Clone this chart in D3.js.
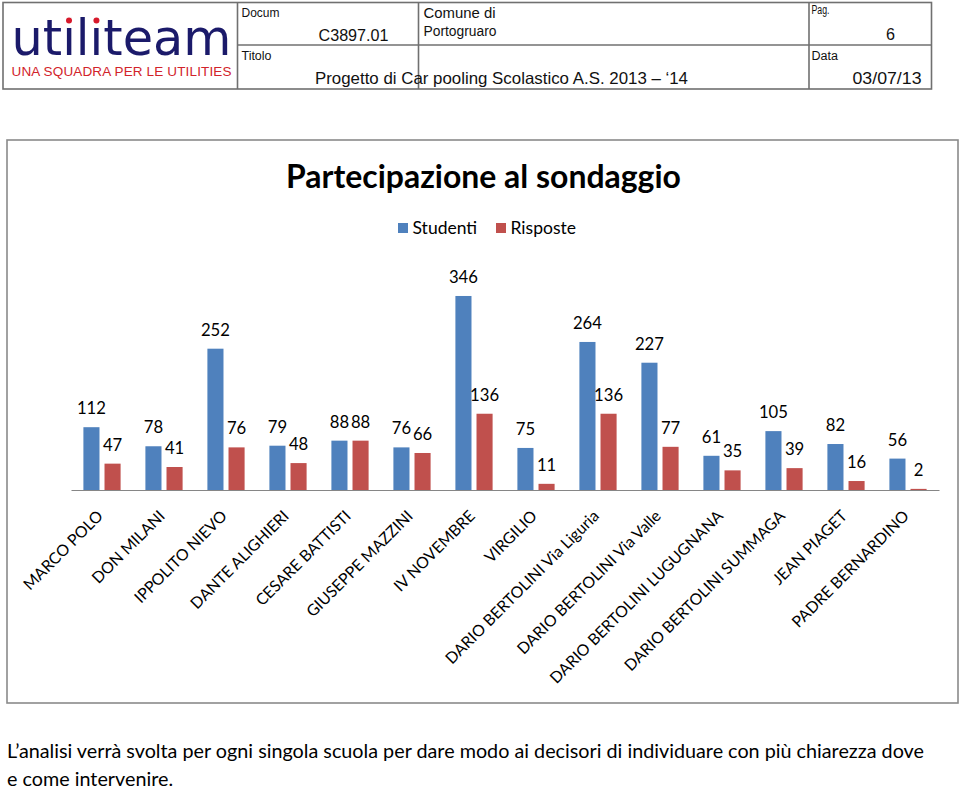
<!DOCTYPE html>
<html>
<head>
<meta charset="utf-8">
<script src="https://cdn.jsdelivr.net/npm/d3@7"></script>
<style>
  html, body { margin: 0; padding: 0; background: #fff; }
  svg { display: block; }
</style>
</head>
<body>
<svg id="page" width="960" height="788"></svg>
<script>
// ---------------- DATA ----------------
const categories = [
  "MARCO POLO", "DON MILANI", "IPPOLITO NIEVO", "DANTE ALIGHIERI",
  "CESARE BATTISTI", "GIUSEPPE MAZZINI", "IV NOVEMBRE", "VIRGILIO",
  "DARIO BERTOLINI Via Liguria", "DARIO BERTOLINI Via Valle",
  "DARIO BERTOLINI LUGUGNANA", "DARIO BERTOLINI SUMMAGA",
  "JEAN PIAGET", "PADRE BERNARDINO"
];
const seriesNames = ["Studenti", "Risposte"];
const studenti = [112, 78, 252, 79, 88, 76, 346, 75, 264, 227, 61, 105, 82, 56];
const risposte = [47, 41, 76, 48, 88, 66, 136, 11, 136, 77, 35, 39, 16, 2];
const seriesColors = ["#4F81BD", "#C0504D"];
const chartTitle = "Partecipazione al sondaggio";
const bodyLines = [
  "L’analisi verrà svolta per ogni singola scuola per dare modo ai decisori di individuare con più chiarezza dove",
  "e come intervenire."
];

// ---------------- SETUP ----------------
const svg = d3.select("#page");
svg.append("rect").attr("width", 960).attr("height", 788).attr("fill", "#fff");

function fitSize(text, family, weight, target, probe = 100) {
  const t = svg.append("text").attr("font-family", family).attr("font-weight", weight)
    .attr("font-size", probe).text(text);
  const w = t.node().getComputedTextLength();
  t.remove();
  return probe * target / w;
}

// ---------------- HEADER ----------------
const hdr = svg.append("g");
const lineCol = "#707070";
hdr.append("rect").attr("x", 3).attr("y", 2.5).attr("width", 928.5).attr("height", 86.5)
  .attr("fill", "none").attr("stroke", lineCol).attr("stroke-width", 1.6);
[237.5, 418.5, 809].forEach(x => hdr.append("line").attr("x1", x).attr("x2", x).attr("y1", 2.5).attr("y2", 89)
  .attr("stroke", lineCol).attr("stroke-width", 1.6));
hdr.append("line").attr("x1", 237.5).attr("x2", 931.5).attr("y1", 45).attr("y2", 45)
  .attr("stroke", lineCol).attr("stroke-width", 1.6);

const hFont = "Liberation Sans, Arial, sans-serif";
const hdrTexts = [
  { t: "Docum", x: 241.5, y: 16.5, w: 38, fs: 12.5 },
  { t: "C3897.01", x: 318.5, y: 40.5, w: 70, fs: 17 },
  { t: "Comune di", x: 423.5, y: 17.5, w: 72, fs: 15.5 },
  { t: "Portogruaro", x: 423.5, y: 35.5, w: 73, fs: 15.5 },
  { t: "Pag.", x: 811.5, y: 13.5, w: 18, fs: 12 },
  { t: "6", x: 886, y: 39.5, w: 9, fs: 16.5 },
  { t: "Titolo", x: 241.5, y: 60, w: 30, fs: 12.5 },
  { t: "Progetto di Car pooling Scolastico A.S. 2013 – ‘14", x: 315, y: 83.5, w: 373, fs: 16.5 },
  { t: "Data", x: 811.5, y: 60, w: 26.5, fs: 12.5 },
  { t: "03/07/13", x: 852.5, y: 83.5, w: 69, fs: 17 }
];
hdrTexts.forEach(d => {
  hdr.append("text").attr("x", d.x).attr("y", d.y)
    .attr("font-family", hFont)
    .attr("font-size", d.fs)
    .attr("textLength", d.w).attr("lengthAdjust", "spacingAndGlyphs")
    .attr("fill", "#111").text(d.t);
});

// Logo
const logoFont = "DejaVu Sans, sans-serif";
const logo = hdr.append("text").attr("x", 11.5).attr("y", 55)
  .attr("font-family", logoFont).attr("font-size", fitSize("utiliteam", logoFont, "normal", 220))
  .attr("fill", "#1b1a6a").text("utiliteam");
// red dots on the two i's
[2, 4].forEach(i => {
  const ext = logo.node().getExtentOfChar(i);
  svg.append("circle").attr("cx", ext.x + ext.width / 2).attr("cy", 20.5).attr("r", 4.2).attr("fill", "#fff");
  svg.append("circle").attr("cx", ext.x + ext.width / 2).attr("cy", 20.5).attr("r", 3).attr("fill", "#d7192b");
});
hdr.append("text").attr("x", 11.5).attr("y", 75.5)
  .attr("font-family", hFont).attr("font-size", 13.5)
  .attr("textLength", 220).attr("lengthAdjust", "spacing")
  .attr("fill", "#d2232a").text("UNA SQUADRA PER LE UTILITIES");

// ---------------- CHART ----------------
const cFont = "Lato, 'Open Sans', sans-serif";
svg.append("rect").attr("x", 7).attr("y", 140).attr("width", 951).attr("height", 563)
  .attr("fill", "#fff").attr("stroke", "#8a8a8a").attr("stroke-width", 1.6);

svg.append("text").attr("x", 483.5).attr("y", 188).attr("text-anchor", "middle")
  .attr("font-family", cFont).attr("font-weight", "bold")
  .attr("font-size", fitSize(chartTitle, cFont, "bold", 395))
  .attr("fill", "#000").text(chartTitle);

// Legend
const legFs = fitSize("Studenti", cFont, "normal", 64.7);
const legendX = [398, 496];
seriesNames.forEach((s, i) => {
  svg.append("rect").attr("x", legendX[i]).attr("y", 223).attr("width", 10).attr("height", 10)
    .attr("fill", seriesColors[i]);
  svg.append("text").attr("x", legendX[i] + 14.5).attr("y", 233.5)
    .attr("font-family", cFont).attr("font-size", legFs).attr("fill", "#000").text(s);
});

// Scales
const x = d3.scaleBand().domain(categories).range([71, 939]).paddingInner(0.4).paddingOuter(0.2);
const xs = d3.scaleBand().domain(seriesNames).range([0, x.bandwidth()]).paddingInner(0.238);
const y = d3.scaleLinear().domain([0, 400]).range([490, 265.7]);

const rows = categories.map((c, i) => ({ c, vals: [studenti[i], risposte[i]] }));
const valFs = fitSize("346", cFont, "normal", 29);

const groups = svg.append("g").selectAll("g").data(rows).join("g")
  .attr("transform", d => `translate(${x(d.c)},0)`);
groups.selectAll("rect").data(d => d.vals.map((v, i) => ({ v, s: seriesNames[i], i }))).join("rect")
  .attr("x", d => xs(d.s)).attr("width", xs.bandwidth())
  .attr("y", d => y(d.v)).attr("height", d => y(0) - y(d.v))
  .attr("fill", d => seriesColors[d.i]);
groups.selectAll("text").data(d => d.vals.map((v, i) => ({ v, s: seriesNames[i], i }))).join("text")
  .attr("x", d => xs(d.s) + xs.bandwidth() / 2).attr("y", d => y(d.v) - 13)
  .attr("text-anchor", "middle").attr("font-family", cFont).attr("font-size", valFs)
  .attr("fill", "#000").text(d => d.v);

// Axis
const labFs = fitSize("PADRE BERNARDINO", cFont, "normal", 158);
const axis = svg.append("g").attr("transform", "translate(0,490)")
  .call(d3.axisBottom(x).tickSize(0).tickSizeOuter(0).tickPadding(0));
axis.select(".domain").attr("stroke", "#868686").attr("stroke-width", 1.2);
axis.selectAll(".tick text")
  .attr("font-family", cFont).attr("font-size", labFs).attr("fill", "#000")
  .attr("x", 0).attr("y", 0).attr("dy", 0).attr("text-anchor", "end")
  .attr("transform", "translate(2,27) rotate(-45)");

// ---------------- BODY TEXT ----------------
const bodyFs = fitSize(bodyLines[0], cFont, "normal", 918);
bodyLines.forEach((l, i) => {
  svg.append("text").attr("x", 7).attr("y", 757.5 + i * 28)
    .attr("font-family", cFont).attr("font-size", bodyFs).attr("fill", "#000").text(l);
});
</script>
</body>
</html>
